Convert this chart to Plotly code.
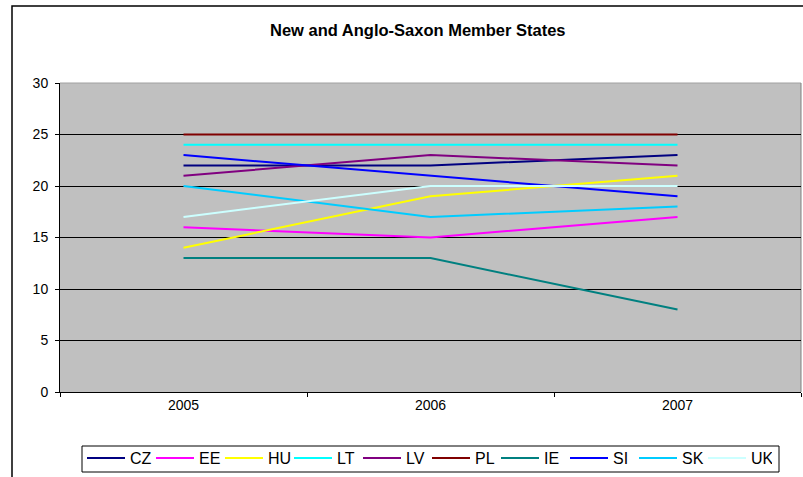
import plotly.graph_objects as go

years = ["2005", "2006", "2007"]
series_names = ["CZ", "EE", "HU", "LT", "LV", "PL", "IE", "SI", "SK", "UK"]
cz = [22, 22, 23]
ee = [16, 15, 17]
hu = [14, 19, 21]
lt = [24, 24, 24]
lv = [21, 23, 22]
pl = [25, 25, 25]
ie = [13, 13, 8]
si = [23, 21, 19]
sk = [20, 17, 18]
uk = [17, 20, 20]
values = [cz, ee, hu, lt, lv, pl, ie, si, sk, uk]
colors = ["#000080", "#FF00FF", "#FFFF00", "#00FFFF", "#800080",
          "#800000", "#008080", "#0000FF", "#00CCFF", "#CCFFFF"]
y_ticks = [0, 5, 10, 15, 20, 25, 30]

W, H = 803, 477
L, R, T, B = 60, 801, 83, 392
pw, ph = R - L, B - T

def px(x):
    return (x - L) / pw

def py(y):
    return (B - y) / ph

fig = go.Figure()
for name, vals, col in zip(series_names, values, colors):
    fig.add_trace(go.Scatter(x=years, y=vals, name=name, mode="lines",
                             line=dict(color=col, width=2)))

font = "Liberation Sans, Arial, sans-serif"
fig.update_layout(
    width=W, height=H,
    margin=dict(l=L, r=W - R, t=T, b=H - B, autoexpand=False),
    paper_bgcolor="white",
    plot_bgcolor="#C0C0C0",
    font=dict(family=font, size=14, color="black"),
    showlegend=True,
    legend=dict(orientation="h", xref="container", yref="container",
                x=82 / W, y=1 - 441 / H, xanchor="left", yanchor="top",
                borderwidth=0, bgcolor="rgba(0,0,0,0)",
                font=dict(size=16), entrywidth=16, itemwidth=38,
                tracegroupgap=0),
    xaxis=dict(type="category", range=[-0.5, 2.5], showgrid=False,
               showline=True, linecolor="black", linewidth=1,
               ticks="outside", ticklen=4, tickcolor="black", tickson="boundaries",
               tickfont=dict(size=14), zeroline=False, fixedrange=True),
    yaxis=dict(range=[0, 30], tickvals=y_ticks, showgrid=True, gridcolor="black",
               gridwidth=1, showline=True, linecolor="black", linewidth=1,
               ticks="outside", ticklen=4, tickcolor="black",
               tickfont=dict(size=14), zeroline=False, ticklabelstandoff=4),
    shapes=[
        dict(type="line", xref="paper", yref="paper", x0=0, x1=1, y0=1, y1=1,
             line=dict(color="#A0A0A0", width=1), layer="below"),
        dict(type="line", xref="paper", yref="paper", x0=1, x1=1, y0=0, y1=1,
             line=dict(color="#808080", width=1), layer="below"),
        dict(type="rect", xref="paper", yref="paper", x0=px(12), x1=px(830),
             y0=py(490), y1=py(6), line=dict(color="black", width=1.5),
             fillcolor="rgba(0,0,0,0)"),
        dict(type="rect", xref="paper", yref="paper", x0=px(82), x1=px(779),
             y0=py(472), y1=py(446), line=dict(color="black", width=1),
             fillcolor="white", layer="below"),
    ],
    annotations=[
        dict(text="<b>New and Anglo-Saxon Member States</b>", xref="paper", yref="paper",
             x=px(418), y=py(30), xanchor="center", yanchor="middle", showarrow=False,
             font=dict(size=16.5, family=font, color="black")),
    ],
)

fig.write_html("out.html", config={"displayModeBar": False},
               post_script="document.body.style.margin='0';document.body.style.overflow='hidden';")
